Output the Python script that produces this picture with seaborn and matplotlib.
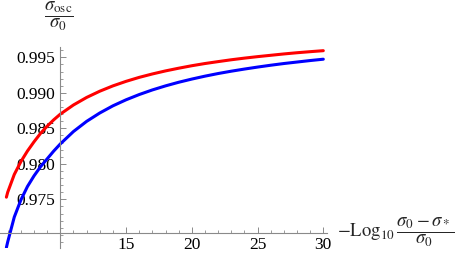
import matplotlib
matplotlib.use("Agg")
import matplotlib.pyplot as plt
import seaborn as sns
import pandas as pd
from matplotlib.ticker import MultipleLocator, FixedLocator

# Data
x_vals = [5.9, 6.0, 6.5, 7.0, 7.5, 8.0, 8.5, 9.0, 9.5, 10, 11, 12, 13, 14, 15, 16, 17, 18,
          19, 20, 21, 22, 23, 24, 25, 26, 27, 28, 29, 30]
red_vals = [0.9753, 0.9760, 0.9785, 0.9803, 0.9818, 0.9831, 0.9843, 0.9853, 0.9862, 0.9870,
            0.98829, 0.98935, 0.99023, 0.99098, 0.99162, 0.99218, 0.99266, 0.99309,
            0.99347, 0.99382, 0.99413, 0.99440, 0.99466, 0.99489, 0.99510, 0.99529,
            0.99548, 0.99565, 0.99580, 0.99594]
blue_vals = [0.9682, 0.9690, 0.9725, 0.9749, 0.9768, 0.9783, 0.9796, 0.9807, 0.9818, 0.9828,
             0.98455, 0.98598, 0.98716, 0.98817, 0.98902, 0.98976, 0.99041, 0.99098,
             0.99149, 0.99194, 0.99235, 0.99272, 0.99305, 0.99335, 0.99363, 0.99389,
             0.99413, 0.99434, 0.99455, 0.99474]
x_tick_labels = ["15", "20", "25", "30"]
y_tick_labels = ["0.975", "0.980", "0.985", "0.990", "0.995"]

df = pd.DataFrame({
    "x": x_vals + x_vals,
    "y": red_vals + blue_vals,
    "series": ["red"] * len(x_vals) + ["blue"] * len(x_vals),
})

sns.set_style("white")
plt.rcParams["font.family"] = ["Liberation Serif", "DejaVu Serif"]
plt.rcParams["mathtext.fontset"] = "stix"

fig = plt.figure(figsize=(4.57, 2.56), dpi=100)
ax = fig.add_axes([0.0, 0.03125, 0.7155, 0.7863])

sns.lineplot(data=df, x="x", y="y", hue="series",
             palette={"red": "#ff0000", "blue": "#0000ff"},
             linewidth=2.2, legend=False, ax=ax, sort=False)

ax.set_xlim(5.414, 30.28)
ax.set_ylim(0.96814, 0.9965)

axis_gray = "#8a8a8a"
ax.spines["left"].set_position(("data", 10))
ax.spines["bottom"].set_position(("data", 0.9703))
ax.spines["right"].set_visible(False)
ax.spines["top"].set_visible(False)
for s in ("left", "bottom"):
    ax.spines[s].set_color(axis_gray)
    ax.spines[s].set_linewidth(0.8)

ax.xaxis.set_major_locator(FixedLocator([15, 20, 25, 30]))
ax.set_xticklabels(x_tick_labels)
ax.xaxis.set_minor_locator(MultipleLocator(1))
ax.yaxis.set_major_locator(FixedLocator([0.975, 0.980, 0.985, 0.990, 0.995]))
ax.set_yticklabels(y_tick_labels)
ax.yaxis.set_minor_locator(MultipleLocator(0.001))

ax.tick_params(which="both", left=True, bottom=True, top=False, right=False)
ax.tick_params(which="major", direction="in", length=4.3, width=0.7, color=axis_gray,
               labelsize=12.5, labelcolor="black", pad=3)
ax.tick_params(which="minor", direction="in", length=2.3, width=0.6, color=axis_gray)
ax.tick_params(axis="y", which="major", pad=3.5)

ax.set_xlabel("")
ax.set_ylabel("")

ax.text(0.128, 1.0, r"$\dfrac{\sigma_{\mathrm{osc}}}{\sigma_0}$", transform=fig.transFigure,
        ha="center", va="top", fontsize=13.5, clip_on=False)
ax.text(1.032, 0.9703, r"$-\mathrm{Log}_{10}\,\dfrac{\sigma_0-\sigma_*}{\sigma_0}$",
        transform=ax.get_yaxis_transform(), ha="left", va="center", fontsize=13.5, clip_on=False)
ax.patch.set_alpha(0)

fig.savefig("out.png", dpi=100)
